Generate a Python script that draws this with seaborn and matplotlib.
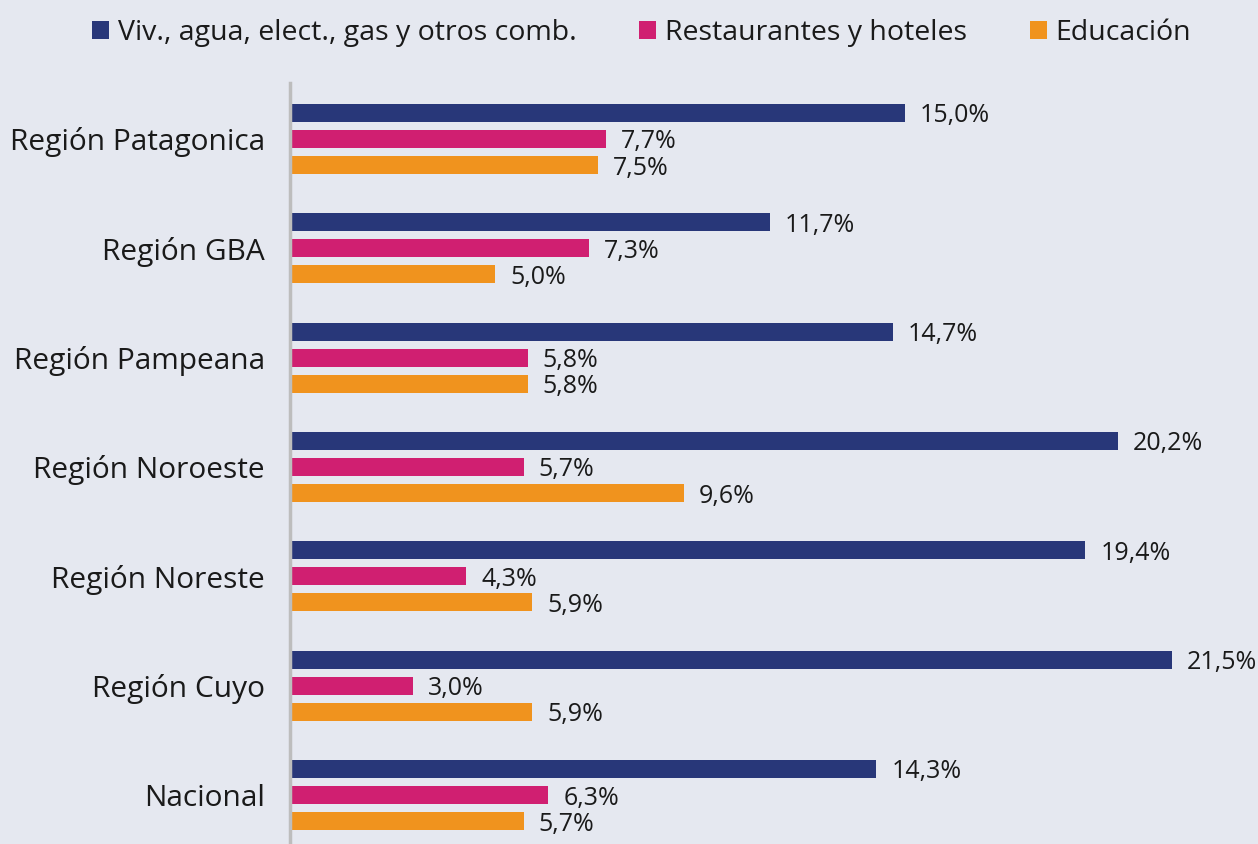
import matplotlib
matplotlib.use("Agg")
import matplotlib.pyplot as plt
import seaborn as sns
import pandas as pd
from matplotlib.patches import Patch

regiones = ["Región Patagonica", "Región GBA", "Región Pampeana", "Región Noroeste",
            "Región Noreste", "Región Cuyo", "Nacional"]
series = ["Viv., agua, elect., gas y otros comb.", "Restaurantes y hoteles", "Educación"]
vivienda = [15.0, 11.7, 14.7, 20.2, 19.4, 21.5, 14.3]
restaurantes = [7.7, 7.3, 5.8, 5.7, 4.3, 3.0, 6.3]
educacion = [7.5, 5.0, 5.8, 9.6, 5.9, 5.9, 5.7]
colores = ["#283779", "#D01F71", "#F0931E"]
fondo = "#E5E8F0"

rows = []
for serie, valores in zip(series, [vivienda, restaurantes, educacion]):
    for reg, v in zip(regiones, valores):
        rows.append({"region": reg, "serie": serie, "valor": v})
df = pd.DataFrame(rows)

sns.set_style("white")
plt.rcParams["font.family"] = ["Open Sans", "DejaVu Sans"]

fig = plt.figure(figsize=(12.58, 8.44), dpi=100, facecolor=fondo)
ax = fig.add_axes([290 / 1258, 0, 1 - 290 / 1258, 1 - 83 / 844])
ax.set_facecolor(fondo)

sns.barplot(data=df, y="region", x="valor", hue="serie", order=regiones,
            hue_order=series, palette=colores, orient="h", width=0.714,
            gap=0.31, saturation=1, linewidth=0, legend=False, ax=ax)

# etiquetas de valor con coma decimal, un poco por debajo del centro de la barra
for cont in ax.containers:
    for b in cont:
        ax.annotate(f"{b.get_width():.1f}%".replace(".", ","),
                    (b.get_width(), b.get_y() + b.get_height() / 2),
                    xytext=(15, -3), textcoords="offset pixels",
                    ha="left", va="center", fontsize=18, color="#1a1a1a")

ax.set_xlim(0, (1258 - 290) / 41)
ax.set_ylim(6.448, -0.512)
ax.set_xlabel("")
ax.set_ylabel("")
ax.set_xticks([])
ax.tick_params(axis="y", length=0, pad=18, labelsize=21.5, labelcolor="#1a1a1a")
for s in ["top", "right", "bottom"]:
    ax.spines[s].set_visible(False)
ax.spines["left"].set_color("#BDBDBD")
ax.spines["left"].set_linewidth(2.5)

handles = [Patch(facecolor=c, edgecolor="none") for c in colores]
fig.legend(handles, series, loc="center", bbox_to_anchor=(0.51, 1 - 33 / 844),
           ncol=3, frameon=False, fontsize=20.5, handlelength=0.6, handleheight=0.6,
           handletextpad=0.3, columnspacing=2.2, labelcolor="#1a1a1a")

fig.savefig("out.png", dpi=100, facecolor=fondo)
